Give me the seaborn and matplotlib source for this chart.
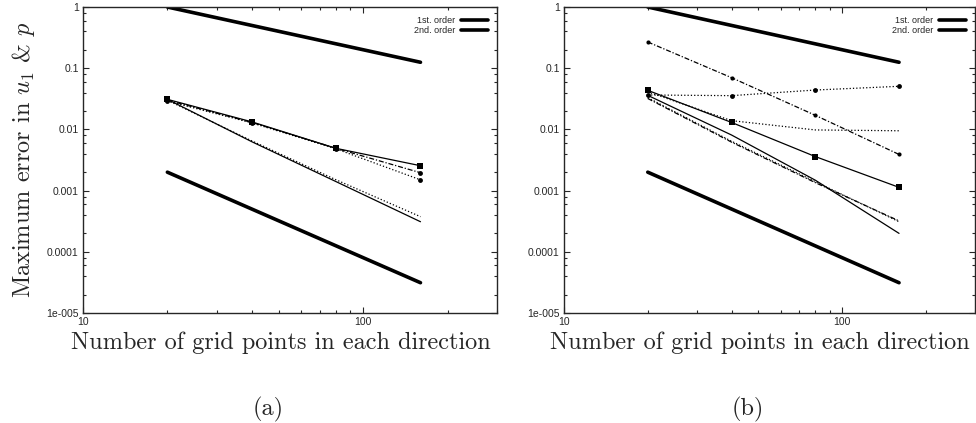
import numpy as np
import pandas as pd
import matplotlib
matplotlib.use("Agg")
import matplotlib.pyplot as plt
import matplotlib.ticker as mticker
import seaborn as sns

# grid sizes
n_grid = [20, 40, 80, 160]
n_ref = [20, 160]

# reference slopes
first_order = [1.0, 0.125]
second_order = [0.002, 3.125e-5]

# panel (a)
a_sq = [0.031, 0.0133, 0.0049, 0.00255]
a_dot1 = [0.030, 0.0130, 0.0049, 0.00196]
a_dot2 = [0.029, 0.0128, 0.0048, 0.0015]
a_solid = [0.031, 0.0063, 0.0014, 0.00031]
a_dotted = [0.030, 0.0065, 0.0015, 0.000375]

# panel (b)
b_dashdot = [0.268, 0.070, 0.017, 0.0039]
b_dot = [0.0365, 0.0356, 0.044, 0.0506]
b_sq = [0.0435, 0.013, 0.0036, 0.00113]
b_dotted = [0.041, 0.0139, 0.0098, 0.0095]
b_solid = [0.036, 0.0081, 0.00148, 0.0002]
b_dd2 = [0.032, 0.0062, 0.00135, 0.00032]
b_dotted2 = [0.033, 0.0064, 0.0014, 0.00031]

ytick_vals = [1e-5, 1e-4, 1e-3, 1e-2, 1e-1, 1]
ytick_labels = ["1e-005", "0.0001", "0.001", "0.01", "0.1", "1"]
xtick_vals = [10, 100]
xtick_labels = ["10", "100"]

sns.set_style("ticks")
plt.rcParams["font.family"] = ["Liberation Sans", "DejaVu Sans"]
plt.rcParams["mathtext.fontset"] = "cm"

serif = dict(family="cmr10", fontsize=17.5)
dashdot = (0, (4, 1.5, 1, 1.5))

fig = plt.figure(figsize=(9.76, 4.23), dpi=100)
W, H = 976, 423
ax1 = fig.add_axes([83 / W, 1 - 313 / H, 414 / W, 306 / H])
ax2 = fig.add_axes([564 / W, 1 - 313 / H, 411 / W, 306 / H])


def draw(ax, series):
    sns.lineplot(x=n_ref, y=first_order, ax=ax, color="black", lw=2.6, label="1st. order")
    sns.lineplot(x=n_ref, y=second_order, ax=ax, color="black", lw=2.6, label="2nd. order")
    for vals, ls, mk, ms in series:
        sns.lineplot(x=n_grid, y=vals, ax=ax, color="black", lw=0.9, linestyle=ls,
                     marker=mk, markersize=ms, markeredgewidth=0, legend=False)
    ax.set_xscale("log")
    ax.set_yscale("log")
    ax.set_xlim(10, 300)
    ax.set_ylim(1e-5, 1)
    ax.yaxis.set_major_locator(mticker.FixedLocator(ytick_vals))
    ax.set_yticklabels(ytick_labels)
    ax.xaxis.set_major_locator(mticker.FixedLocator(xtick_vals))
    ax.set_xticklabels(xtick_labels)
    ax.xaxis.set_minor_locator(mticker.LogLocator(base=10, subs=np.arange(2, 10)))
    ax.yaxis.set_minor_locator(mticker.LogLocator(base=10, subs=(2, 4, 6, 8)))
    ax.yaxis.set_minor_formatter(mticker.NullFormatter())
    ax.xaxis.set_minor_formatter(mticker.NullFormatter())
    ax.tick_params(which="both", direction="in", top=True, right=True, labelsize=7.5, width=0.8)
    ax.tick_params(which="major", length=4, pad=3)
    ax.tick_params(which="minor", length=2)
    for s in ax.spines.values():
        s.set_linewidth(1.0)
    ax.set_xlabel("Number of grid points in each direction", **serif)
    ax.xaxis.set_label_coords(0.477, -0.062)
    ax.legend(loc="upper right", frameon=False, fontsize=6.5, markerfirst=False,
              handlelength=3.0, labelspacing=0.1, borderaxespad=0.6, handletextpad=0.6)


draw(ax1, [
    (a_sq, "-", "s", 5),
    (a_dot1, dashdot, "o", 3.5),
    (a_dot2, ":", "o", 3.5),
    (a_solid, "-", None, 0),
    (a_dotted, ":", None, 0),
])
draw(ax2, [
    (b_dashdot, dashdot, "o", 3),
    (b_dot, ":", "o", 3.5),
    (b_sq, "-", "s", 5),
    (b_dotted, ":", None, 0),
    (b_solid, "-", None, 0),
    (b_dd2, dashdot, None, 0),
    (b_dotted2, ":", None, 0),
])

ax1.set_ylabel(r"Maximum error in $u_1$ & $p$", labelpad=7, **serif)

fig.text(268 / W, 1 - 409 / H, "(a)", ha="center", va="center", **serif)
fig.text(748 / W, 1 - 409 / H, "(b)", ha="center", va="center", **serif)

fig.savefig("out.png", dpi=100)
